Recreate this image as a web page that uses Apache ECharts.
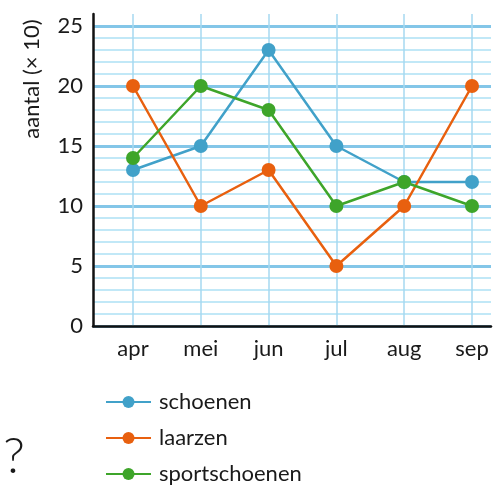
<!DOCTYPE html>
<html>
<head>
<meta charset="utf-8">
<script src="https://cdn.jsdelivr.net/npm/echarts@6/dist/echarts.min.js"></script>
<style>
  html, body { margin: 0; padding: 0; background: #fff; }
  #chart { width: 503px; height: 485px; }
</style>
</head>
<body>
<div id="chart"></div>
<script>
const months = ['apr', 'mei', 'jun', 'jul', 'aug', 'sep']
const schoenen = [13, 15, 23, 15, 12, 12]
const laarzen = [20, 10, 13, 5, 10, 20]
const sportschoenen = [14, 20, 18, 10, 12, 10]
const seriesNames = ['schoenen', 'laarzen', 'sportschoenen']
const colors = ['#41a1c9', '#e8600f', '#3ea52a']

const font = 'Lato, "Open Sans", sans-serif'
const chart = echarts.init(document.getElementById('chart'))

function lineSeries(name, data, color) {
  return {
    name: name,
    type: 'line',
    xAxisIndex: 0,
    yAxisIndex: 0,
    data: data,
    symbol: 'circle',
    symbolSize: 14,
    itemStyle: { color: color },
    lineStyle: { color: color, width: 2.5 },
    z: 5
  }
}

const option = {
  animation: false,
  color: colors,
  grid: [
    { left: 133, right: 31, top: 14, bottom: 159 },
    { left: 93, right: 12, top: 14, bottom: 159 }
  ],
  xAxis: [
    {
      gridIndex: 0,
      type: 'category',
      data: months,
      boundaryGap: false,
      axisLine: { show: false },
      axisTick: { show: false },
      axisLabel: { fontFamily: font, fontSize: 22, color: '#1a1a1a', margin: 12 },
      splitLine: { show: true, lineStyle: { color: '#a6d8f1', width: 1.5 } }
    },
    {
      gridIndex: 1,
      type: 'value',
      min: 0,
      max: 1,
      axisLine: { show: true, onZero: false, lineStyle: { color: '#111', width: 2.5 } },
      axisTick: { show: false },
      axisLabel: { show: false },
      splitLine: { show: false }
    }
  ],
  yAxis: [
    {
      gridIndex: 0,
      type: 'value',
      min: 0,
      max: 26,
      show: false
    },
    {
      gridIndex: 1,
      type: 'value',
      position: 'left',
      min: 0,
      max: 26,
      interval: 1,
      axisLine: { show: false },
      axisTick: { show: false },
      axisLabel: { show: false },
      splitLine: { show: true, showMaxLine: false, lineStyle: { color: '#ade0f5', width: 1.5 } }
    },
    {
      gridIndex: 1,
      type: 'value',
      position: 'left',
      min: 0,
      max: 26,
      interval: 5,
      axisLine: { show: true, onZero: false, lineStyle: { color: '#111', width: 2.5 } },
      axisTick: { show: false },
      axisLabel: {
        fontFamily: font, fontSize: 22, color: '#1a1a1a', margin: 10,
        showMaxLabel: false
      },
      splitLine: { show: true, showMaxLine: false, lineStyle: { color: '#83c6e8', width: 3 } }
    }
  ],
  legend: {
    data: seriesNames,
    orient: 'vertical',
    left: 105,
    top: 391,
    height: 200,
    padding: 0,
    itemWidth: 45,
    itemHeight: 15,
    itemGap: 14,
    textStyle: { fontFamily: font, fontSize: 22, color: '#1a1a1a', padding: [0, 0, 0, 3] }
  },
  graphic: [
    {
      type: 'text',
      x: 32,
      y: 79,
      rotation: Math.PI / 2,
      style: {
        text: 'aantal (× 10)',
        font: '22px ' + font,
        fill: '#1a1a1a',
        align: 'center',
        verticalAlign: 'middle'
      }
    },
    {
      type: 'text',
      x: 14,
      y: 457,
      style: {
        text: '?',
        font: '300 50px ' + font,
        fill: '#1a1a1a',
        align: 'center',
        verticalAlign: 'middle'
      }
    }
  ],
  series: [
    lineSeries(seriesNames[0], schoenen, colors[0]),
    lineSeries(seriesNames[1], laarzen, colors[1]),
    lineSeries(seriesNames[2], sportschoenen, colors[2])
  ]
}

chart.setOption(option)
window.addEventListener('resize', () => chart.resize())
</script>
</body>
</html>
